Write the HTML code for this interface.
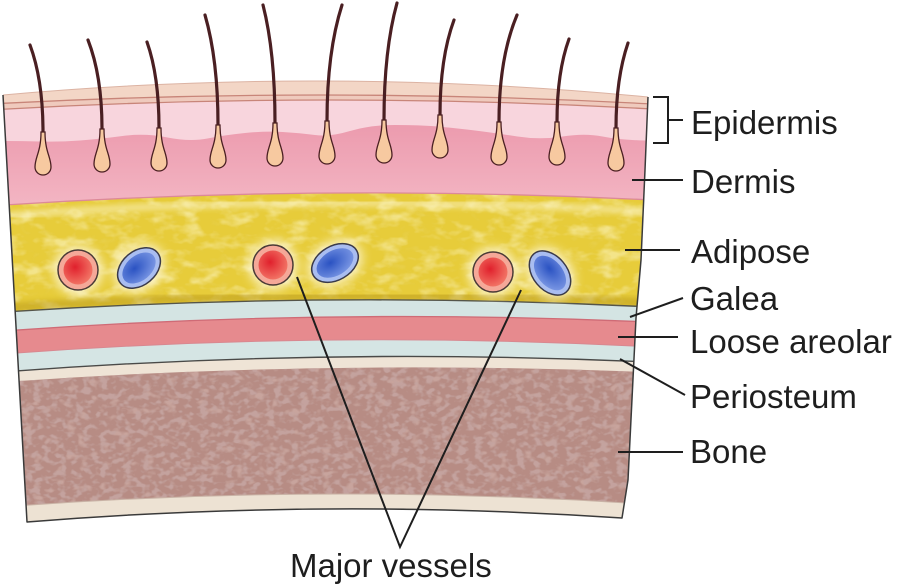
<!DOCTYPE html>
<html><head><meta charset="utf-8"><style>
html,body{margin:0;padding:0;background:#fff;}
svg{display:block;}
text{font-family:"Liberation Sans",Arial,sans-serif;font-size:33px;fill:#1e1e1e;}
</style></head><body>
<svg width="898" height="587" viewBox="0 0 898 587" xmlns="http://www.w3.org/2000/svg">
<defs>
<clipPath id="outline"><path d="M3,95 Q325,66 648,97 L645,170 L641,260 L636,318 L628,480 L622,518 Q325,498 27,522 Z"/></clipPath>
<clipPath id="fatClip"><path d="M-10,206 Q330,182.5 670,201 L670,308 Q330,289.5 -10,313 Z"/></clipPath>
<clipPath id="boneClip"><path d="M-10,383 Q330,358 670,373 L670,506 Q330,481 -10,508 Z"/></clipPath>
<linearGradient id="derm" x1="0" y1="125" x2="0" y2="205" gradientUnits="userSpaceOnUse">
<stop offset="0" stop-color="#ec9bae"/><stop offset="1" stop-color="#f3b5c3"/></linearGradient>
<radialGradient id="redg" cx="0.4" cy="0.4" r="0.7"><stop offset="0" stop-color="#e0202c"/><stop offset="1" stop-color="#f47e6c"/></radialGradient>
<radialGradient id="blueg" cx="0.4" cy="0.4" r="0.7"><stop offset="0" stop-color="#2a52c2"/><stop offset="1" stop-color="#7f9be6"/></radialGradient>
<filter id="fatTex" x="0" y="0" width="1" height="1">
<feTurbulence type="fractalNoise" baseFrequency="0.045 0.08" numOctaves="3" seed="7"/>
<feColorMatrix type="matrix" values="0 0 0 0 0.97  0 0 0 0 0.90  0 0 0 0 0.52  3 0 0 0 -1.4"/>
</filter>
<filter id="fatDark" x="0" y="0" width="1" height="1">
<feTurbulence type="fractalNoise" baseFrequency="0.07 0.11" numOctaves="2" seed="11"/>
<feColorMatrix type="matrix" values="0 0 0 0 0.82  0 0 0 0 0.68  0 0 0 0 0.14  -3 0 0 0 1.25"/>
</filter>
<filter id="boneTex" x="0" y="0" width="1" height="1">
<feTurbulence type="fractalNoise" baseFrequency="0.12 0.17" numOctaves="2" seed="4"/>
<feColorMatrix type="matrix" values="0 0 0 0 0.55  0 0 0 0 0.37  0 0 0 0 0.35  -5 0 0 0 2.6"/>
</filter>
<filter id="boneLight" x="0" y="0" width="1" height="1">
<feTurbulence type="fractalNoise" baseFrequency="0.09 0.13" numOctaves="2" seed="9"/>
<feColorMatrix type="matrix" values="0 0 0 0 0.80  0 0 0 0 0.64  0 0 0 0 0.60  5 0 0 0 -2.8"/>
</filter>
<filter id="blur3"><feGaussianBlur stdDeviation="3"/></filter>
<filter id="blur5"><feGaussianBlur stdDeviation="5"/></filter>
</defs>

<g clip-path="url(#outline)">
  <rect x="0" y="60" width="700" height="480" fill="#f3d6c6"/>
  <path d="M-10,104 Q330,85.5 670,105 L670,600 L-10,600 Z" fill="#efcabd"/>
  <path d="M-10,110 Q330,90 670,110 L670,600 L-10,600 Z" fill="#f8d5dd"/>
  <path d="M-10,104 Q330,85.5 670,105" fill="none" stroke="#c88579" stroke-width="1.3"/>
  <path d="M-10,110 Q330,90 670,110" fill="none" stroke="#c88579" stroke-width="1.3"/>
  <path d="M-10,141 L0,141 Q20,141 40,141.5 Q60,142 80,140.5 Q100,139 122.5,136 Q145,133 167.5,137.5 Q190,142 207.5,138.5 Q225,135 245,133 Q265,131 282.5,132 Q300,133 315,135 Q330,137 350,131 Q370,125 395,125 Q420,125 437.5,126.5 Q455,128 475,130.5 Q495,133 517.5,136.5 Q540,140 562.5,136.5 Q585,133 602.5,136.5 Q620,140 645,140.5 L670,141 L670,600 L-10,600 Z" fill="url(#derm)"/>
  <!-- adipose -->
  <path d="M-10,206 Q330,182.5 670,201 L670,600 L-10,600 Z" fill="#e7cc3a"/>
  <g clip-path="url(#fatClip)">
    <rect x="0" y="180" width="660" height="140" filter="url(#fatDark)" opacity="0.45"/>
    <rect x="0" y="180" width="660" height="140" filter="url(#fatTex)" opacity="0.6"/>
    <path d="M0,216 Q300,192 660,212" fill="none" stroke="#fffbe0" stroke-width="7" opacity="0.5" filter="url(#blur3)"/>
    <path d="M-10,309 Q330,285.5 670,304" fill="none" stroke="#b39318" stroke-width="9" opacity="0.5" filter="url(#blur3)"/>
  </g>
  <path d="M-10,206 Q330,182.5 670,201" fill="none" stroke="#dc8a98" stroke-width="1.3"/>
  <!-- galea -->
  <path d="M-10,313 Q330,289.5 670,308 L670,600 L-10,600 Z" fill="#d4e4e3"/>
  <path d="M-10,313 Q330,289.5 670,308" fill="none" stroke="#55554a" stroke-width="1.4"/>
  <!-- loose areolar -->
  <path d="M-10,332 Q330,306.5 670,323 L670,600 L-10,600 Z" fill="#e68a8e"/>
  <path d="M-10,332 Q330,306.5 670,323" fill="none" stroke="#cf6b76" stroke-width="1.3"/>
  <!-- lower light layer -->
  <path d="M-10,355 Q330,328.5 670,348 L670,600 L-10,600 Z" fill="#d5e5e4"/>
  <path d="M-10,355 Q330,328.5 670,348" fill="none" stroke="#d88890" stroke-width="1"/>
  <!-- periosteum -->
  <path d="M-10,373 Q330,346 670,363 L670,600 L-10,600 Z" fill="#efe4d6"/>
  <path d="M-10,373 Q330,346 670,363" fill="none" stroke="#4a4a48" stroke-width="1.4"/>
  <!-- bone -->
  <path d="M-10,383 Q330,358 670,373 L670,600 L-10,600 Z" fill="#b78c84"/>
  <g clip-path="url(#boneClip)">
    <rect x="0" y="355" width="660" height="160" filter="url(#boneLight)" opacity="0.35"/>
    <rect x="0" y="355" width="660" height="160" filter="url(#boneTex)" opacity="0.95"/>
  </g>
  <path d="M-10,508 Q330,481 670,506 L670,600 L-10,600 Z" fill="#ede2d3"/>
  <path d="M-10,508 Q330,481 670,506" fill="none" stroke="#c9b3a6" stroke-width="1"/>

  <!-- vessel glows -->
  <g fill="#fffbe6" opacity="0.75" filter="url(#blur5)">
    <circle cx="78" cy="270" r="25"/><ellipse cx="139" cy="268" rx="28" ry="22" transform="rotate(-40 139 268)"/>
    <circle cx="273" cy="265" r="25"/><ellipse cx="335" cy="263" rx="29" ry="22" transform="rotate(-30 335 263)"/>
    <circle cx="493" cy="272" r="25"/><ellipse cx="550" cy="273" rx="29" ry="22" transform="rotate(50 550 273)"/>
  </g>
  <!-- arteries -->
  <g stroke="#4a3a36" stroke-width="1.5">
    <circle cx="78" cy="270" r="20" fill="#f5a898"/>
    <circle cx="273" cy="265" r="20" fill="#f5a898"/>
    <circle cx="493" cy="272" r="20" fill="#f5a898"/>
  </g>
  <circle cx="78" cy="270" r="14.5" fill="url(#redg)"/>
  <circle cx="273" cy="265" r="14.5" fill="url(#redg)"/>
  <circle cx="493" cy="272" r="14.5" fill="url(#redg)"/>
  <!-- veins -->
  <g transform="rotate(-40 139 268)">
    <ellipse cx="139" cy="268" rx="24" ry="17" fill="#a9bdf0" stroke="#3a3a4a" stroke-width="1.5"/>
    <ellipse cx="139" cy="268" rx="19" ry="12.5" fill="url(#blueg)"/>
  </g>
  <g transform="rotate(-30 335 263)">
    <ellipse cx="335" cy="263" rx="25" ry="17" fill="#a9bdf0" stroke="#3a3a4a" stroke-width="1.5"/>
    <ellipse cx="335" cy="263" rx="20" ry="12.5" fill="url(#blueg)"/>
  </g>
  <g transform="rotate(50 550 273)">
    <ellipse cx="550" cy="273" rx="25" ry="17" fill="#a9bdf0" stroke="#3a3a4a" stroke-width="1.5"/>
    <ellipse cx="550" cy="273" rx="20" ry="12.5" fill="url(#blueg)"/>
  </g>
</g>

<!-- outline -->
<path d="M3,95 Q325,66 648,97" fill="none" stroke="#dcb3a3" stroke-width="1"/>
<path d="M648,97 L645,170 L641,260 L636,318 L628,480 L622,518 Q325,498 27,522 L3,95" fill="none" stroke="#3a3a3a" stroke-width="1.5" stroke-linejoin="round"/>

<!-- hairs -->
<g fill="none" stroke="#4a1f22" stroke-width="3.2" stroke-linecap="round">
  <path d="M30,45 Q43,80 43,132"/>
  <path d="M88,40 Q102,76 102,129"/>
  <path d="M147,42 Q159,76 159,128"/>
  <path d="M205,15 Q218,60 218,125"/>
  <path d="M263,5 Q275,52 275,123"/>
  <path d="M342,5 Q327,52 327,121"/>
  <path d="M397,3 Q384,50 384,120"/>
  <path d="M454,20 Q440,58 440,115"/>
  <path d="M517,15 Q499,58 499,122"/>
  <path d="M569,39 Q557,72 557,122"/>
  <path d="M628,43 Q616,78 616,128"/>
</g>
<g fill="#f7c9a0" stroke="#4a1f22" stroke-width="1.3">
  <path d="M41,132 C41,152 35,157 35,167 A8,8 0 0 0 51,167 C51,157 45,152 45,132 Z"/>
  <path d="M100,129 C100,149 94,154 94,164 A8,8 0 0 0 110,164 C110,154 104,149 104,129 Z"/>
  <path d="M157,128 C157,148 151,153 151,163 A8,8 0 0 0 167,163 C167,153 161,148 161,128 Z"/>
  <path d="M216,125 C216,145 210,150 210,160 A8,8 0 0 0 226,160 C226,150 220,145 220,125 Z"/>
  <path d="M273,123 C273,143 267,148 267,158 A8,8 0 0 0 283,158 C283,148 277,143 277,123 Z"/>
  <path d="M325,121 C325,141 319,146 319,156 A8,8 0 0 0 335,156 C335,146 329,141 329,121 Z"/>
  <path d="M382,120 C382,140 376,145 376,155 A8,8 0 0 0 392,155 C392,145 386,140 386,120 Z"/>
  <path d="M438,115 C438,135 432,140 432,150 A8,8 0 0 0 448,150 C448,140 442,135 442,115 Z"/>
  <path d="M497,122 C497,142 491,147 491,157 A8,8 0 0 0 507,157 C507,147 501,142 501,122 Z"/>
  <path d="M555,122 C555,142 549,147 549,157 A8,8 0 0 0 565,157 C565,147 559,142 559,122 Z"/>
  <path d="M614,128 C614,148 608,153 608,163 A8,8 0 0 0 624,163 C624,153 618,148 618,128 Z"/>
</g>

<!-- leader lines -->
<g fill="none" stroke="#1e1e1e" stroke-width="2">
  <path d="M653,97 L668,97 L668,143 L653,143 M668,120 L683,120"/>
  <path d="M632,180 L683,180"/>
  <path d="M625,250 L680,250"/>
  <path d="M630,317 L683,298"/>
  <path d="M618,337 L678,337"/>
  <path d="M620,359 L685,395"/>
  <path d="M618,452 L683,452"/>
  <path d="M297,277 L400,547 L521,290" stroke-linejoin="miter"/>
</g>

<text x="691" y="134">Epidermis</text>
<text x="691" y="193">Dermis</text>
<text x="691" y="263">Adipose</text>
<text x="690" y="310">Galea</text>
<text x="690" y="353">Loose areolar</text>
<text x="690" y="408">Periosteum</text>
<text x="690" y="463">Bone</text>
<text x="290" y="577">Major vessels</text>
</svg>
</body></html>
